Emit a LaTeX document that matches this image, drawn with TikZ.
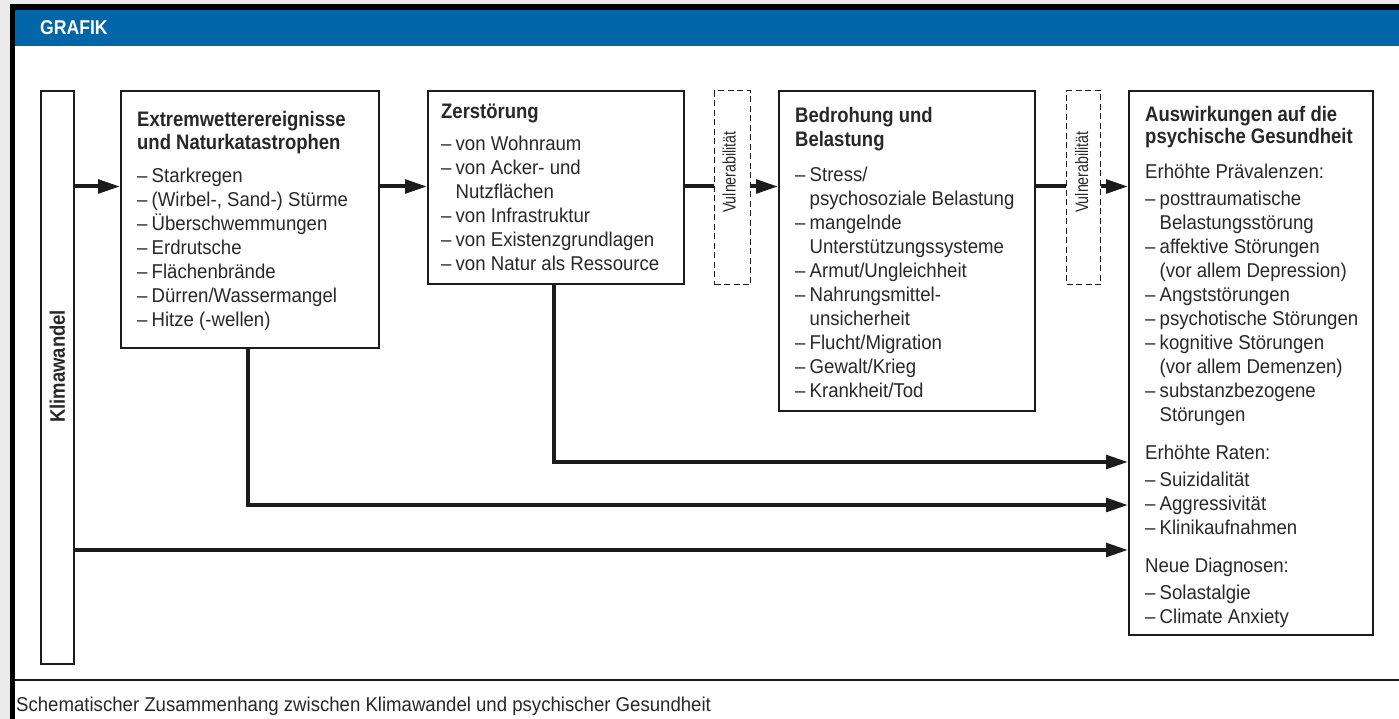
\documentclass[tikz,border=0pt]{standalone}
\usepackage{fontspec}
\setmainfont{Liberation Sans}[FakeStretch=0.93]
\newfontfamily\titlefamily{Liberation Sans}[FakeStretch=0.88]
\newfontfamily\vulfamily{Liberation Sans}[FakeStretch=0.79]
\usetikzlibrary{arrows.meta, positioning}

\definecolor{grafikblue}{RGB}{0,102,168}
\definecolor{pagegray}{RGB}{235,235,235}
\definecolor{linegray}{RGB}{28,28,28}
\definecolor{textgray}{RGB}{40,40,40}

\newcommand{\itm}[1]{\makebox[14.5pt][l]{--}#1}
\newcommand{\cnt}[1]{\hspace*{14.5pt}#1}
\newcommand{\ttl}[1]{{\titlefamily\bfseries\fontsize{21}{24}\selectfont #1}}
\newcommand{\boxfont}{\fontsize{20}{24}\selectfont}

\tikzset{
  box/.style={draw=linegray, line width=1.8pt, fill=white, inner sep=0pt, anchor=north west},
  vulbox/.style={draw=linegray, line width=1.3pt, dash pattern=on 6pt off 3.5pt, inner sep=0pt, anchor=north west},
  boxtext/.style={anchor=north west, inner sep=0pt, align=left, text=textgray, font=\boxfont},
  vultext/.style={rotate=90, inner sep=0pt, text=textgray, font=\vulfamily\fontsize{18}{20}\selectfont},
  flow/.style={draw=linegray, line width=4pt, -{Triangle[length=22pt,width=13.5pt]}},
  link/.style={draw=linegray, line width=4pt},
}

\begin{document}
\begin{tikzpicture}[x=1pt, y=-1pt]
  % frame
  \fill[pagegray] (0,0) rectangle (1399,719);
  \useasboundingbox (0,0) rectangle (1399,719);
  \fill[black] (10,4) rectangle (1399,10);
  \fill[black] (10,4) rectangle (15,719);
  \fill[grafikblue] (15,10) rectangle (1399,46);
  \fill[white] (15,46) rectangle (1399,719);
  \draw[line width=2.6pt, linegray] (15,680) -- (1399,680);
  \node[anchor=west, inner sep=0pt, text=white, font=\titlefamily\bfseries\fontsize{20}{22}\selectfont] (grafik) at (40,28) {GRAFIK};
  \node[anchor=base west, inner sep=0pt, text=textgray, font=\fontsize{20}{22}\selectfont] (caption) at (16,711)
    {Schematischer Zusammenhang zwischen Klimawandel und psychischer Gesundheit};

  % boxes
  \node[box, minimum width=33pt, minimum height=573pt] (klima) at (40,90) {};
  \node[rotate=90, inner sep=0pt, text=textgray, font=\titlefamily\bfseries\fontsize{21}{24}\selectfont] (klimatext)
    at ([yshift=11pt]klima.center) {Klimawandel};

  \node[box, minimum width=258pt, minimum height=257pt] (extrem) at (120,90) {};
  \node[boxtext, below right=21pt and 17pt of extrem.north west] (extremtext) {%
    \ttl{Extremwetterereignisse}\\[-1pt]
    \ttl{und Naturkatastrophen}\\[9pt]
    \itm{Starkregen}\\
    \itm{(Wirbel-, Sand-) Stürme}\\
    \itm{Überschwemmungen}\\
    \itm{Erdrutsche}\\
    \itm{Flächenbrände}\\
    \itm{Dürren/Wassermangel}\\
    \itm{Hitze (-wellen)}};

  \node[box, minimum width=256pt, minimum height=193pt] (zerst) at (427,90) {};
  \node[boxtext, below right=14pt and 14pt of zerst.north west] (zersttext) {%
    \ttl{Zerstörung}\\[8pt]
    \itm{von Wohnraum}\\
    \itm{von Acker- und}\\
    \cnt{Nutzflächen}\\
    \itm{von Infrastruktur}\\
    \itm{von Existenzgrundlagen}\\
    \itm{von Natur als Ressource}};

  \node[vulbox, minimum width=36pt, minimum height=194pt] (vula) at (714,90) {};
  \node[vultext] (vulatext) at ([xshift=-3.5pt, yshift=15.5pt]vula.center) {Vulnerabilität};

  \node[box, minimum width=256pt, minimum height=320pt] (bedroh) at (778,90) {};
  \node[boxtext, below right=17pt and 17pt of bedroh.north west] (bedrohtext) {%
    \ttl{Bedrohung und}\\
    \ttl{Belastung}\\[11pt]
    \itm{Stress/}\\
    \cnt{psychosoziale Belastung}\\
    \itm{mangelnde}\\
    \cnt{Unterstützungssysteme}\\
    \itm{Armut/Ungleichheit}\\
    \itm{Nahrungsmittel-}\\
    \cnt{unsicherheit}\\
    \itm{Flucht/Migration}\\
    \itm{Gewalt/Krieg}\\
    \itm{Krankheit/Tod}};

  \node[vulbox, minimum width=34pt, minimum height=194pt] (vulb) at (1066,90) {};
  \node[vultext] (vulbtext) at ([xshift=-2pt, yshift=15.5pt]vulb.center) {Vulnerabilität};

  \node[box, minimum width=244pt, minimum height=544pt] (ausw) at (1128,90) {};
  \node[boxtext, below right=16pt and 17pt of ausw.north west] (auswtext) {%
    \ttl{Auswirkungen auf die}\\[-2pt]
    \ttl{psychische Gesundheit}\\[11pt]
    Erhöhte Prävalenzen:\\[3pt]
    \itm{posttraumatische}\\
    \cnt{Belastungsstörung}\\
    \itm{affektive Störungen}\\
    \cnt{(vor allem Depression)}\\
    \itm{Angststörungen}\\
    \itm{psychotische Störungen}\\
    \itm{kognitive Störungen}\\
    \cnt{(vor allem Demenzen)}\\
    \itm{substanzbezogene}\\
    \cnt{Störungen}\\[14pt]
    Erhöhte Raten:\\[3pt]
    \itm{Suizidalität}\\
    \itm{Aggressivität}\\
    \itm{Klinikaufnahmen}\\[14pt]
    Neue Diagnosen:\\[3pt]
    \itm{Solastalgie}\\
    \itm{Climate Anxiety}};

  % connectors
  \coordinate (flowline) at (0,186.5);
  \coordinate (zdrop) at (554,462);
  \coordinate (edrop) at (248,505);
  \coordinate (kdrop) at (0,550);

  \draw[flow] (klima.east |- flowline) -- (extrem.west |- flowline);
  \draw[flow] (extrem.east |- flowline) -- (zerst.west |- flowline);
  \draw[link] (zerst.east |- flowline) -- (vula.west |- flowline);
  \draw[flow] (vula.east |- flowline) -- (bedroh.west |- flowline);
  \draw[link] (bedroh.east |- flowline) -- (vulb.west |- flowline);
  \draw[flow] (vulb.east |- flowline) -- (ausw.west |- flowline);

  \draw[flow] (zerst.south -| zdrop) |- (ausw.west |- zdrop);
  \draw[flow] (extrem.south -| edrop) |- (ausw.west |- edrop);
  \draw[flow] (klima.east |- kdrop) -- (ausw.west |- kdrop);
\end{tikzpicture}
\end{document}
